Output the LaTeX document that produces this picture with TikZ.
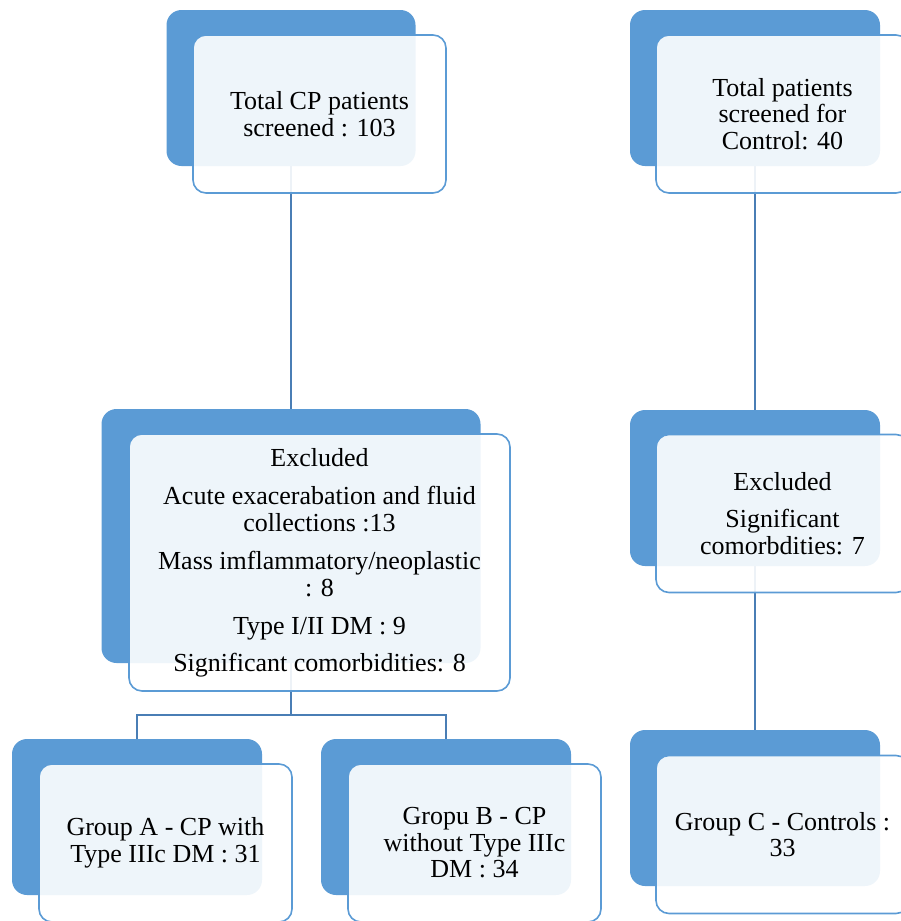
\documentclass[tikz,border=0pt]{standalone}
\usepackage{fontspec}
\setmainfont{Liberation Serif}
\definecolor{accent}{HTML}{5B9BD5}
\definecolor{linkc}{HTML}{4A7EB5}
\begin{document}
\begin{tikzpicture}[x=1pt,y=-1pt,
  backbox/.style={fill=accent, draw=none, rounded corners=15pt, inner sep=0pt, outer sep=0pt},
  frontbox/.style={fill=white, fill opacity=0.9, text opacity=1, draw=accent, line width=1.6pt, rounded corners=13pt, inner sep=0pt, outer sep=0pt, align=center, font=\fontsize{26}{26.5}\selectfont},
  link/.style={draw=linkc, line width=1.8pt}]
\useasboundingbox (0,0) rectangle (901,921);
% back boxes
\node[backbox, minimum width=249pt, minimum height=156pt] (b1) at (291,88) {};
\node[backbox, minimum width=250pt, minimum height=156pt] (b2) at (755,88) {};
\node[backbox, minimum width=379pt, minimum height=254pt] (b3) at (291,536) {};
\node[backbox, minimum width=250pt, minimum height=156pt] (b4) at (755,488) {};
\node[backbox, minimum width=250pt, minimum height=156pt] (bA) at (137,817) {};
\node[backbox, minimum width=250pt, minimum height=156pt] (bB) at (446,817) {};
\node[backbox, minimum width=250pt, minimum height=156pt] (bC) at (755,808) {};
% connectors
\draw[link] (b1.south) -- (b3.north);
\draw[link] (b2.south) -- (b4.north);
\draw[link] (b4.south) -- (bC.north);
\coordinate (split) at (291,715);
\draw[link] (b3.south) -- (split);
\draw[link] (split) -| (bA.north);
\draw[link] (split) -| (bB.north);
% front boxes
\node[frontbox, minimum width=253pt, minimum height=158pt] (f1) at (319.5,114) {Total CP patients\\screened : 103};
\node[frontbox, minimum width=253pt, minimum height=158pt] (f2) at (782.5,114) {Total patients\\screened for\\Control: 40};
\node[frontbox, minimum width=381pt, minimum height=257pt] (f3) at (319.5,562.5) {Excluded\\[12pt]Acute exacerabation and fluid\\collections :13\\[12pt]Mass imflammatory/neoplastic\\: 8\\[12pt]Type I/II DM : 9\\[10pt]Significant comorbidities: 8};
\node[frontbox, minimum width=253pt, minimum height=158pt] (f4) at (782.5,513.5) {Excluded\\[11pt]Significant\\comorbdities: 7};
\node[frontbox, minimum width=253pt, minimum height=158pt] (fA) at (165.5,843) {Group A - CP with\\Type IIIc DM : 31};
\node[frontbox, minimum width=253pt, minimum height=158pt] (fB) at (474.5,843) {Gropu B - CP\\without Type IIIc\\DM : 34};
\node[frontbox, minimum width=253pt, minimum height=158pt] (fC) at (782.5,834.5) {Group C - Controls :\\33};
\end{tikzpicture}
\end{document}
